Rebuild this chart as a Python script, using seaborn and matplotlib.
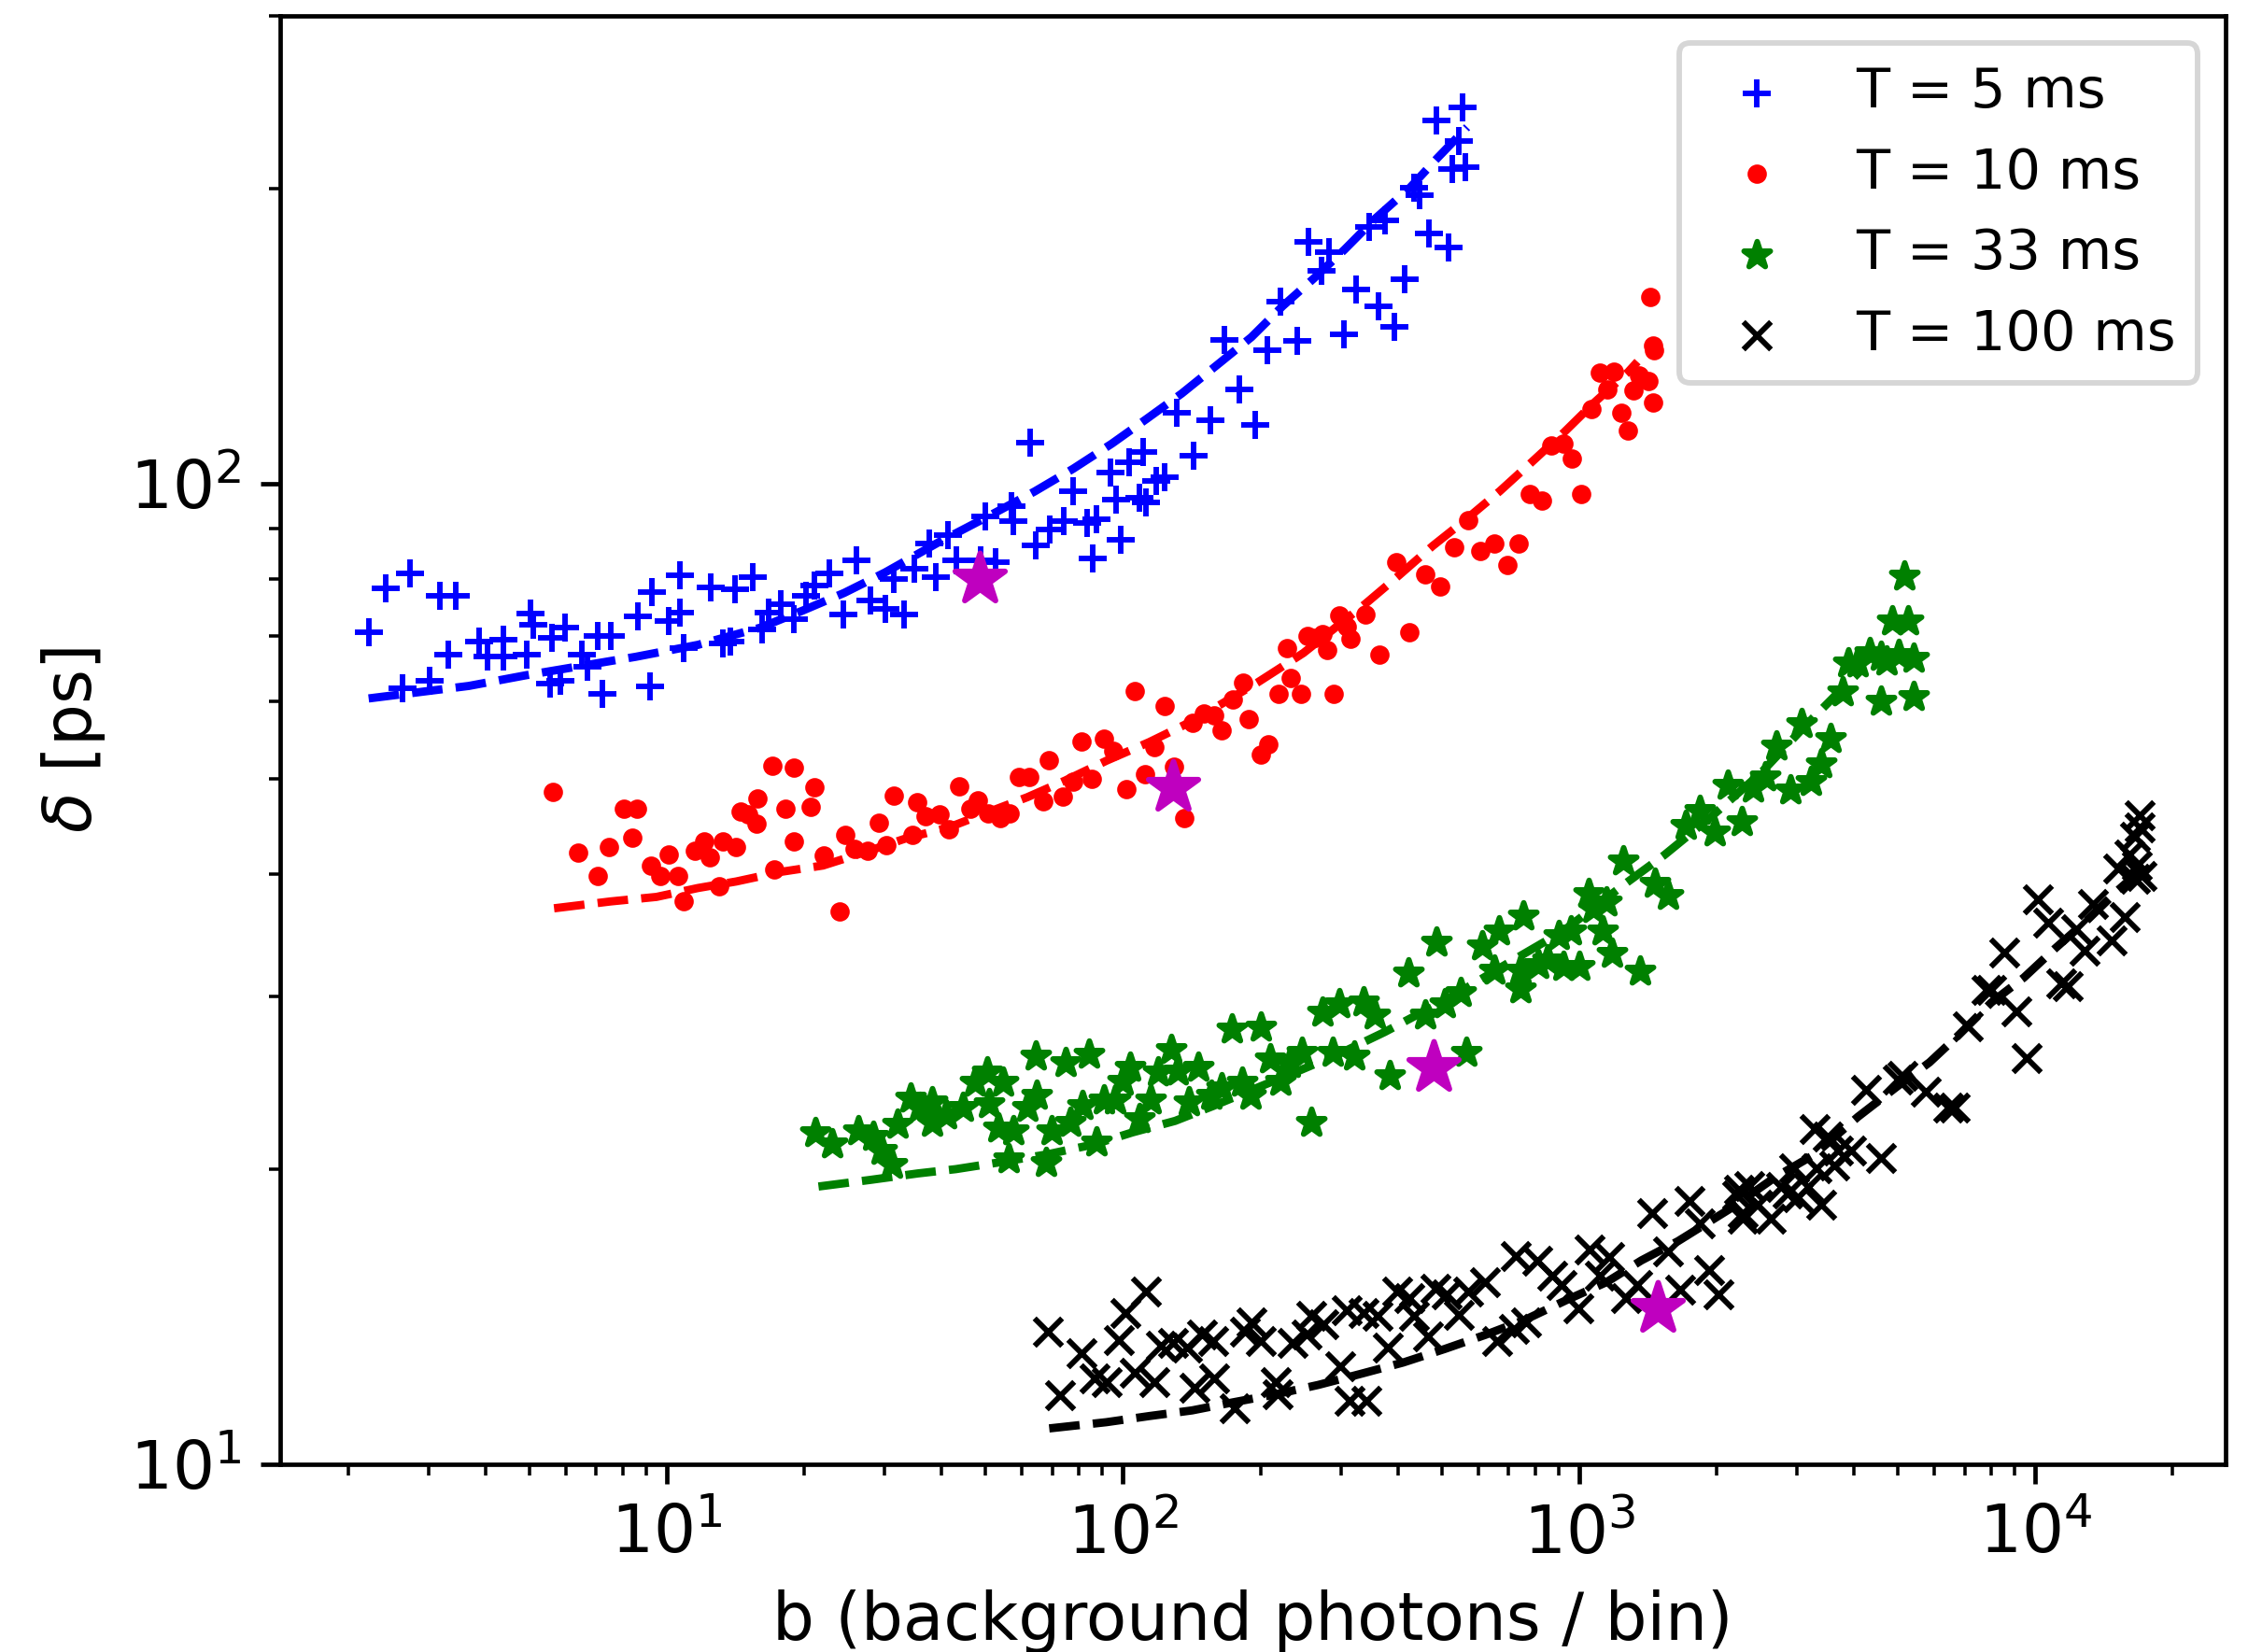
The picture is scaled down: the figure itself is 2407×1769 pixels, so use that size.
import matplotlib
matplotlib.use("Agg")
import matplotlib.pyplot as plt
import seaborn as sns

# ---- T = 5 ms ----
b_5ms = [2.22, 2.42, 2.74, 3.18, 3.44, 2.63, 3.02, 3.32, 3.87, 4.05, 4.39, 4.39, 4.94, 5.03, 5.10,
         5.61, 5.97, 5.55, 5.85, 6.50, 6.71, 7.07, 7.53, 7.22, 8.63, 9.29, 9.19, 10.1, 10.7, 10.7,
         10.9, 12.5, 14.1, 15.4, 13.3, 13.8, 16.2, 16.7, 17.8, 19.0, 20.2, 21.1, 22.7, 24.4, 26.0,
         28.0, 30.2, 31.4, 33.1, 34.9, 37.6, 38.8, 41.3, 43.1, 49.9,
         48.7, 52.6, 57.5, 56.9,
         62.5, 64.4, 69.2, 74.1, 77.8, 83.3, 87.5, 85.8, 93.7, 96.5, 98.9, 103.3, 108.5, 110.6, 112.3,
         118.5, 123.1, 131.4, 142.6, 155.1, 166.7, 179.6, 195.0, 206.8, 221.3, 240.7, 255.3, 271.8,
         282.6, 305.5, 324.0, 346.9, 362.9, 375.1, 393.9, 413.7, 434.4, 447.3, 467.9, 515.9, 486.6,
         543.9, 554.6, 528.1, 562.3]
delta_5ms = [70.5, 78.3, 81.1, 76.8, 76.8, 61.9, 62.9, 67.0, 69.0, 66.7, 69.3, 66.7, 67.0, 73.7, 71.8,
             69.7, 71.4, 62.5, 62.9, 67.0, 65.1, 70.0, 70.0, 61.1, 73.2, 77.6, 62.1, 72.5, 80.7, 73.9,
             68.0, 78.4, 78.0, 80.3, 68.7, 69.0, 71.1, 73.9, 75.4, 72.8, 76.8, 78.8, 81.1, 73.5, 83.5,
             76.1, 74.6, 79.9, 73.5, 81.9, 86.9, 80.3, 88.6, 83.5, 92.6,
             83.5, 83.2, 91.7, 94.9,
             110.1, 86.5, 89.9, 91.7, 98.2, 91.2, 92.1, 83.9, 102.6, 96.3, 87.7, 105.1, 96.7, 107.8, 95.8,
             100.6, 101.6, 118.2, 106.7, 116.0, 140.3, 124.8, 114.8, 136.9, 153.2, 139.9, 176.3, 165.0,
             172.4, 142.1, 157.8, 182.8, 151.7, 185.5, 144.5, 161.8, 200.5, 196.7, 179.8, 174.0, 234.6,
             223.4, 242.0, 209.6, 210.2]
fit_b_5ms = [2.22, 3.68, 4.93, 8.54, 11.7, 16.0, 19.8, 24.5, 30.1, 39.5, 50.6, 64.0, 77.8, 94.6,
             112.8, 134.5, 163.5, 191.2, 223.6, 261.4, 305.5, 357.3, 426.0, 488.5, 568.0]
fit_delta_5ms = [60.4, 62.2, 63.8, 66.6, 68.5, 71.3, 74.2, 77.4, 81.2, 87.2, 92.6, 98.2, 103.6, 109.9,
                 116.5, 123.6, 133.0, 141.1, 151.7, 161.8, 173.2, 186.4, 200.5, 214.8, 231.0]

# ---- T = 10 ms ----
b_10ms = [5.63, 6.40, 7.04, 7.45, 8.05, 8.58, 8.41, 9.25, 9.69, 10.1, 10.6, 10.9, 11.5, 12.1, 12.4,
          13.0, 13.3, 14.2, 14.5, 15.1, 15.7, 15.8, 17.0, 17.2, 18.2, 19.0, 19.0, 20.7, 21.1, 22.1,
          23.9, 24.6, 25.8, 27.5, 29.1, 30.3, 31.5, 34.6, 35.3, 36.9, 39.7, 41.6, 43.7, 46.2, 48.0,
          50.5, 53.8, 56.5, 59.2, 62.4, 66.9, 68.9, 73.8, 77.8, 81.2, 85.5, 90.6, 95.0, 101.9, 106.0,
          111.7, 117.3, 123.6,
          129.4, 136.4, 142.2, 150.5, 158.0, 164.8, 173.7, 183.0, 188.9, 200.4, 207.7, 218.9, 228.4,
          233.2, 245.9, 253.8, 263.5, 273.1, 280.7, 289.7, 298.3, 309.8, 315.1, 339.1, 365.1, 396.3,
          424.9, 460.2, 495.4, 532.1, 570.3, 607.6, 651.2, 696.6, 737.3, 778.8, 827.9, 868.8, 925.3,
          965.1, 1011, 1061, 1112, 1191, 1154, 1234, 1277, 1315, 1351, 1419, 1449, 1431, 1455, 1461]
delta_10ms = [48.5, 42.1, 39.8, 42.6, 46.6, 46.6, 43.6, 40.8, 39.8, 41.9, 39.8, 37.5, 42.2, 43.2, 41.6,
              38.9, 43.2, 42.6, 46.3, 46.0, 45.0, 47.8, 51.6, 40.4, 46.6, 51.3, 43.2, 46.8, 49.0, 41.8,
              36.6, 43.8, 42.4, 42.2, 45.1, 42.8, 48.1, 43.8, 47.3, 45.8, 46.0, 44.4, 49.1, 46.6, 47.6,
              46.1, 45.6, 46.1, 50.2, 50.2, 47.4, 52.2, 48.0, 49.7, 54.6, 50.0, 54.9, 53.4, 48.8, 61.4,
              50.6, 53.9, 59.4,
              51.4, 45.6, 57.1, 58.3, 58.0, 56.0, 60.2, 62.7, 57.5, 53.0, 54.2, 61.1, 68.0,
              63.4, 61.1, 70.0, 69.7, 70.2, 67.7, 61.1, 73.4, 71.5, 69.5, 73.6, 66.9, 83.2,
              70.6, 80.9, 78.6, 86.1, 91.9, 85.3, 86.9, 82.6, 86.9, 97.7, 96.1, 109.3, 109.9,
              106.2, 97.7, 119.2, 129.8, 130.0, 124.7, 118.1, 113.4, 124.4, 128.9, 127.3, 121.1, 154.9,
              138.4, 136.7]
fit_b_10ms = [5.66, 7.53, 9.49, 11.7, 14.2, 17.8, 22.0, 27.2, 33.5, 41.4, 52.2, 61.7, 74.6, 92.1,
              114.0, 137.8, 163.1, 197.1, 248.5, 340.6, 403.3, 477.1, 565.4, 670.0, 786.5, 927.4,
              1077, 1280, 1342]
fit_delta_10ms = [36.9, 37.5, 37.9, 38.7, 39.3, 40.2, 40.8, 42.1, 43.5, 44.6, 46.5, 47.9, 49.8, 52.2,
                  54.5, 56.9, 59.5, 62.7, 67.2, 75.5, 80.7, 86.4, 92.0, 98.3, 105.2, 112.9,
                  120.9, 130.0, 133.2]

# ---- T = 33 ms ----
b_33ms = [21.2, 23.0, 26.3, 28.3, 29.6, 31.1, 32.1, 34.2, 35.9, 38.2, 38.2, 41.0, 44.6, 47.4, 50.3,
          54.7, 50.9, 53.2, 57.4, 56.1, 61.7, 64.5, 64.8, 67.9, 69.6, 74.8, 76.7, 81.4, 84.4, 87.5,
          90.7, 96.3, 99.9, 103.5, 108.6, 114.8, 119.6, 127.6, 131.7, 139.2, 146.0, 155.8, 164.8,
          173.6, 182.2, 190.3, 200.6, 210.5, 220.9, 231.7, 246.1, 258.2, 274.2, 287.7, 298.3, 320.6,
          336.4, 357.1, 383.9, 422.7, 459.9, 486.1, 506.4, 550.8, 564.2, 613.7, 667.6, 651.6, 743.8,
          752.8,
          813.4, 854.0, 902.2, 923.6, 960.2, 998.6, 1049, 1075, 1123, 1145, 1179, 1250, 1360, 1462,
          1565, 1709, 1838, 1979, 2119, 2269, 2406, 2552, 2705, 2897, 3072, 3226, 3387, 3556, 3771,
          3884, 4078, 4324, 4585, 4722, 4862, 5006, 5156, 5257, 5413, 5413, 4585, 743.8]
delta_33ms = [21.8, 21.2, 21.9, 21.6, 20.9, 20.2, 22.2, 23.6, 23.1, 23.4, 22.3, 22.7, 23.1, 24.5, 25.1,
              24.5, 23.3, 22.0, 21.9, 20.5, 23.1, 26.1, 23.8, 20.3, 21.9, 25.7, 22.3, 23.2, 26.2, 21.3,
              23.5, 23.5, 24.6, 25.4, 22.5, 23.5, 25.1, 26.5, 25.2, 23.4, 25.4, 23.8, 24.2,
              27.8, 24.5, 23.8, 27.9, 25.9, 24.6, 25.6, 26.3, 22.3, 28.9, 26.3, 29.5, 26.1,
              29.6, 28.7, 24.9, 31.7, 28.7, 34.1, 29.5, 30.3, 26.3, 33.8, 35.0, 31.9, 30.5,
              36.2,
              32.3, 32.7, 34.6, 32.2, 35.0, 32.2, 38.2, 36.9, 35.0, 37.4, 33.2, 41.2, 31.8, 39.1,
              38.0, 44.8, 46.4, 44.1, 49.2, 45.2, 48.9, 50.2, 54.0, 48.7, 56.9, 49.7, 51.8, 54.9, 61.3,
              65.6, 65.6, 67.3, 60.0, 65.9, 72.5, 67.0, 80.5, 72.5, 66.3, 60.7, 66.6, 31.9]
fit_b_33ms = [21.5, 27.9, 35.5, 43.0, 52.8, 68.0, 86.5, 104.8, 130.1, 157.7, 200.6, 243.1, 301.9,
              374.8, 433.0, 513.7, 702.4, 923.6, 1262, 1535, 1941, 2502, 3102, 3627, 4158]
fit_delta_33ms = [19.2, 19.5, 19.8, 20.0, 20.3, 20.7, 21.2, 21.8, 22.4, 23.2, 24.3, 25.2, 26.3,
                  27.6, 28.6, 29.8, 32.5, 35.0, 39.1, 41.8, 45.7, 50.7, 56.4, 60.7, 64.6]

# ---- T = 100 ms ----
b_100ms = [68.4, 72.8, 80.9, 86.5, 91.9, 98.1, 101.2, 112.2, 106.2, 116.9, 121.2, 128.7, 138.3, 143.4,
           148.7, 157.9, 158.6, 176.0, 184.6, 191.3, 200.7, 215.9, 218.5, 234.8, 252.3, 258.5, 274.5,
           298.6, 313.3, 340.8, 309.6, 336.8, 361.9, 379.7, 398.4, 423.2, 433.5, 466.0, 483.1, 513.0,
           544.8, 571.6, 621.8, 660.2, 718.4, 762.8, 727.0, 810.0, 870.9, 913.7, 993.8, 1055, 1162,
           1107, 1264, 1342, 1442, 1569, 1667, 1748, 1834, 1925, 2020, 2223, 2279, 2362,
           2244, 2282, 2462, 2634, 2770, 2865, 2963, 3013, 3169, 3305, 3390, 3277, 3506, 3626, 3687,
           3945, 4590, 4256, 4993, 5121, 5761, 6427, 6647, 7111, 7801, 7998, 8556, 9076, 9546, 10124,
           10650, 11394, 11784, 12287, 12814, 13365, 14664, 15165, 15686, 16500, 16500, 16920, 16920,
           17060, 16090, 16700]
delta_100ms = [13.65, 11.75, 12.97, 12.23, 12.14, 13.40, 14.26, 15.01, 12.41, 12.14, 13.21, 13.31,
               13.16, 11.96, 13.55, 13.35, 12.23, 11.41, 13.65, 13.95, 13.35, 12.14, 11.79, 13.31,
               13.55, 14.16, 13.90, 12.59, 11.62, 11.62, 14.36, 14.26, 14.16, 13.16, 15.01, 14.79,
               14.16, 13.50, 15.12, 14.90, 14.21, 15.01, 15.34, 13.35, 13.75, 13.95, 16.32, 16.14,
               15.56, 15.22, 14.41, 16.56, 16.26, 15.56, 14.79, 15.22, 18.02, 16.50, 15.07, 18.55,
               17.62, 15.79, 14.90, 18.82, 18.02, 19.24,
               19.04, 17.81, 18.41, 17.81, 19.2, 18.88, 20.02, 18.72, 19.2, 20.02, 18.41, 21.96, 21.6,
               20.19, 20.88, 20.88, 20.53, 24.08, 24.69, 24.9, 23.98, 23.09, 23.09, 28.0, 30.45, 30.45,
               33.25, 28.96, 25.97, 37.7, 35.7, 30.97, 30.71, 35.1, 33.4, 37.25, 34.24, 40.51, 36.16,
               39.52, 43.7, 45.93, 44.6, 39.84, 41.89, 40.8]
fit_b_100ms = [68.9, 91.9, 114.1, 141.7, 174.7, 216.8, 267.9, 332.7, 411.1, 506.9, 621.8, 762.8,
               935.7, 1148, 1368, 1647, 2152, 2678, 3277, 4080, 4951, 5859, 6760, 7998, 9434,
               11013, 13032, 15165, 17350]
fit_delta_100ms = [10.88, 11.04, 11.20, 11.35, 11.57, 11.79, 12.05, 12.37, 12.70, 13.11, 13.55,
                   14.05, 14.70, 15.34, 16.14, 16.89, 18.25, 19.6, 20.7, 22.61, 24.24, 25.7,
                   27.35, 29.57, 31.36, 33.54, 35.95, 38.5, 40.67]

# Operating points highlighted on each curve
opt_b = [48.5, 128.6, 479, 1485]
opt_delta = [80.0, 49.0, 25.4, 14.41]

labels = ["T = 5 ms", "T = 10 ms", "T = 33 ms", "T = 100 ms"]
colors = ["b", "r", "g", "k"]
markers = ["+", ".", "*", "x"]

DPI = 425
fig = plt.figure(figsize=(2407 / DPI, 1769 / DPI), dpi=DPI)
ax = fig.add_axes([0.1246, 0.1136, 0.8654, 0.8768])
ax.set_xscale("log")
ax.set_yscale("log")

series = [
    (b_5ms, delta_5ms, fit_b_5ms, fit_delta_5ms),
    (b_10ms, delta_10ms, fit_b_10ms, fit_delta_10ms),
    (b_33ms, delta_33ms, fit_b_33ms, fit_delta_33ms),
    (b_100ms, delta_100ms, fit_b_100ms, fit_delta_100ms),
]

for (bx, dy, fbx, fdy), lab, col, mk in zip(series, labels, colors, markers):
    sns.scatterplot(x=bx, y=dy, marker=mk, color=col, edgecolor=col, s=25,
                    linewidth=1.0, label=lab, ax=ax, zorder=2)
    sns.lineplot(x=fbx, y=fdy, color=col, linestyle="--", linewidth=1.5,
                 estimator=None, sort=False, ax=ax, zorder=2.5)

sns.scatterplot(x=opt_b, y=opt_delta, marker="*", color="m", edgecolor="m", s=90,
                linewidth=1.0, ax=ax, zorder=4)

ax.set_xlim(1.42, 26100)
ax.set_ylim(10, 300)
ax.set_xlabel("b (background photons / bin)", fontsize=12)
ax.set_ylabel(r"$\delta$ [ps]", fontsize=12)
ax.tick_params(axis="both", which="major", labelsize=12)

ax.legend(loc="upper right", fontsize=10)

fig.savefig("out.png", dpi=DPI)
